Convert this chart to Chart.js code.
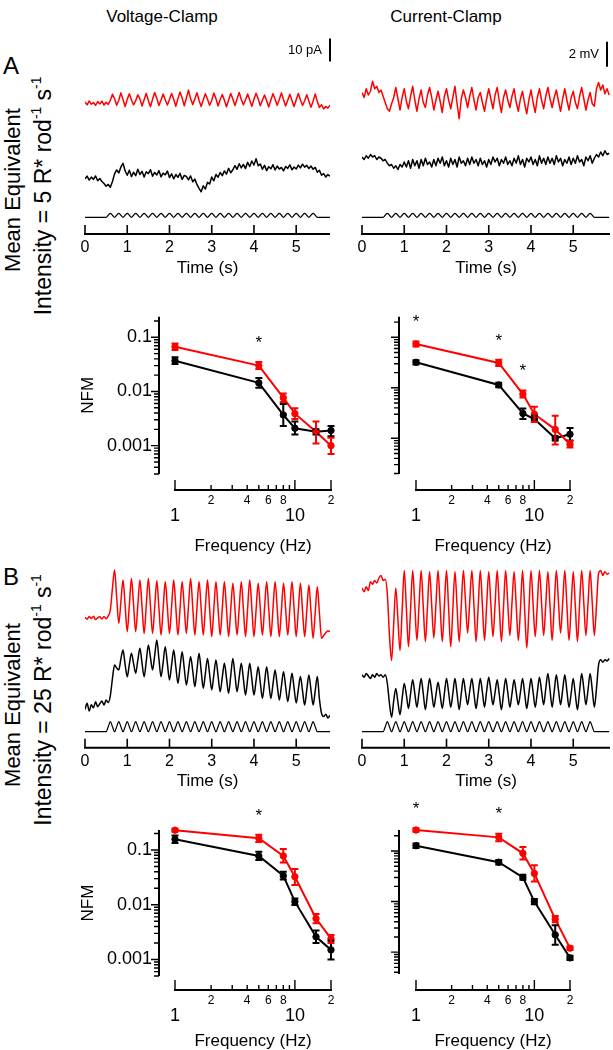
<!DOCTYPE html>
<html>
<head>
<meta charset="utf-8">
<script src="https://cdn.jsdelivr.net/npm/chart.js@4.4.0/dist/chart.umd.min.js"></script>
<style>
  body { margin: 0; background: #fff; width: 613px; height: 1050px; position: relative; overflow: hidden;
         font-family: "Liberation Sans", Arial, sans-serif; color: #000; }
  canvas { position: absolute; }
  .c { position: absolute; white-space: nowrap; transform: translate(-50%, -50%); }
  .r { position: absolute; white-space: nowrap; transform: translate(-50%, -50%) rotate(-90deg); }
  .r sup { font-size: 60%; vertical-align: 0.75em; }
</style>
</head>
<body>
<div class="c" style="left:162px; top:17px; font-size:17px">Voltage-Clamp</div>
<div class="c" style="left:446px; top:17px; font-size:17px">Current-Clamp</div>
<div class="c" style="left:11px; top:66px; font-size:24px">A</div>
<div class="c" style="left:11px; top:577px; font-size:24px">B</div>
<div class="r" style="left:13px; top:190px; font-size:22px">Mean Equivalent</div>
<div class="r" style="left:43px; top:196px; font-size:23px">Intensity = 5 R* rod<sup>-1</sup> s<sup>-1</sup></div>
<div class="r" style="left:13px; top:705px; font-size:22px">Mean Equivalent</div>
<div class="r" style="left:43px; top:700px; font-size:23px">Intensity = 25 R* rod<sup>-1</sup> s<sup>-1</sup></div>

<canvas id="traceAvc" width="272" height="260" style="left:70px; top:30px"></canvas>
<canvas id="traceAcc" width="266" height="260" style="left:347px; top:30px"></canvas>
<canvas id="nfmAvc" width="272" height="270" style="left:70px; top:290px"></canvas>
<canvas id="nfmAcc" width="266" height="270" style="left:347px; top:290px"></canvas>
<canvas id="traceBvc" width="272" height="250" style="left:70px; top:555px"></canvas>
<canvas id="traceBcc" width="266" height="250" style="left:347px; top:555px"></canvas>
<canvas id="nfmBvc" width="272" height="260" style="left:70px; top:790px"></canvas>
<canvas id="nfmBcc" width="266" height="260" style="left:347px; top:790px"></canvas>

<script>
// ---- recordings, one sample every 50 ms starting at t = 0 s ----
const sampleStep = 0.05;

// light stimulus (relative contrast), 5 Hz, 0.5 - 5.5 s
const stimulus = [
	0,0,0,0,0,0,0,0,0,0,0,
	.5,1,.5,0, .5,1,.5,0, .5,1,.5,0, .5,1,.5,0, .5,1,.5,0,
	.5,1,.5,0, .5,1,.5,0, .5,1,.5,0, .5,1,.5,0, .5,1,.5,0,
	.5,1,.5,0, .5,1,.5,0, .5,1,.5,0, .5,1,.5,0, .5,1,.5,0,
	.5,1,.5,0, .5,1,.5,0, .5,1,.5,0, .5,1,.5,0, .5,1,.5,0,
	.5,1,.5,0, .5,1,.5,0, .5,1,.5,0, .5,1,.5,0, .5,1,.5,0,
	0,0,0,0,0,0,0
];

// A, voltage clamp (pA)
const vcLowRed = [
	0.4,-0.8,0.9,-0.5,0.2,-1.0,0.6,-0.4,0.8,-0.9,0.3,-0.6,1.2,
	3.8,1.9,-1.0,1.2, 4.4,1.5,-1.5,1.6, 4.0,1.3,-0.8,1.0, 3.6,1.8,-1.3,1.4,
	4.2,1.1,-1.6,1.7, 4.6,2.0,-1.1,1.3, 3.9,1.4,-0.9,1.5, 4.1,1.6,-1.4,1.9,
	4.8,2.1,-1.2,2.2, 5.6,1.8,-0.7,1.7, 4.5,1.2,-1.5,1.4, 4.0,1.6,-1.0,1.1,
	4.3,1.9,-1.3,1.5, 3.7,1.2,-1.6,1.3, 4.1,1.7,-1.1,1.8, 4.6,1.5,-0.8,1.4,
	3.9,1.3,-1.4,1.6, 4.2,1.8,-1.2,1.2, 3.5,1.0,-1.7,1.3, 4.0,1.6,-1.0,1.5,
	4.4,1.4,-1.3,1.2, 3.8,1.1,-1.5,1.4, 4.1,1.3,-1.1,1.0, 3.6,0.9,-1.8,0.8,
	3.9,0.6,-1.9,-0.8,-2.6,-1.5,-2.2,-0.9
];
const vcLowBlack = [
	-0.3,0.8,-0.9,0.4,-0.6,0.9,-1.2,-0.2,-1.5,-2.4,
	-3.6,-2.8,-4.0,-1.5,1.8,3.5,2.2,4.8,6.4,3.1,
	1.2,3.4,0.6,2.5,1.0,3.8,1.5,2.9,0.4,2.7,
	1.9,3.6,0.8,2.4,1.3,3.2,0.5,2.1,1.4,3.0,
	0.2,1.8,-0.4,1.5,0.3,2.0,-0.6,1.1,0.7,-0.8,
	0.9,-1.6,-0.5,-2.8,-4.5,-6.0,-3.4,-4.8,-1.9,-2.6,
	0.4,-1.2,1.5,0.3,2.4,1.0,3.1,1.7,4.2,2.3,
	3.6,5.4,3.8,6.2,4.4,5.9,4.1,6.8,5.0,7.4,
	5.6,8.4,5.3,6.1,3.8,5.5,3.2,4.9,4.0,5.8,
	3.5,5.2,3.9,4.6,3.1,5.0,4.2,5.7,3.6,4.8,
	3.9,5.6,4.4,6.0,4.7,5.5,4.1,5.2,3.8,4.6,
	2.5,3.4,1.2,1.9,0.4,1.5,0.8
];

// A, current clamp (mV)
const ccLowRed = [
	0.6,0.2,0.9,0.4,0.7,1.5,0.9,1.1,0.6,0.8,
	0.3,-0.2,-0.7,-0.9,-0.3,0.2,
	1.0,0.1,-0.8,0.2, 0.9,-0.1,-0.7,0.3, 1.1,0.0,-0.9,0.1, 0.8,-0.2,-0.6,0.4,
	1.0,0.2,-0.8,0.0, 0.7,-0.1,-1.0,0.3, 0.9,0.0,-0.7,0.2, 1.1,-0.3,-1.5,0.1,
	0.8,0.2,-0.6,0.3, 1.0,0.0,-0.8,0.2, 0.6,-0.2,-0.9,0.1, 0.9,0.1,-0.7,0.4,
	1.0,-0.1,-1.0,0.2, 0.8,0.0,-0.6,0.3, 0.9,-0.2,-0.9,0.1, 0.7,-0.3,-1.1,0.0,
	0.8,-0.2,-1.0,0.2, 0.9,0.0,-0.7,0.3, 1.0,0.1,-0.6,0.2, 0.8,-0.1,-0.9,0.1,
	0.9,0.0,-0.8,0.2, 0.7,-0.2,-0.7,0.3, 1.0,0.1,-0.8,0.0, 0.6,-0.3,-0.5,0.9,
	1.4,0.8,1.2,0.5,0.9,0.4
];
const ccLowBlack = [
	0.4,0.2,0.5,0.3,0.6,0.4,0.5,0.2,0.4,0.3,
	0.1,0.2,-0.1,-0.3,-0.2,-0.5,-0.3,-0.6,-0.2,-0.4,
	0.0,-0.4,0.1,-0.5,0.2,-0.3,0.1,-0.5,0.2,-0.3,
	0.3,-0.2,0.0,-0.4,0.2,-0.3,0.3,-0.1,0.4,-0.3,
	0.1,-0.4,0.3,-0.2,0.2,-0.4,0.4,-0.1,0.1,-0.3,
	0.3,-0.2,0.4,-0.1,0.2,-0.3,0.3,-0.2,0.1,-0.4,
	0.2,-0.2,0.4,0.0,0.3,-0.3,0.2,-0.1,0.4,-0.2,
	0.1,-0.3,0.3,-0.1,0.5,-0.2,0.2,-0.4,0.3,0.0,
	0.4,-0.2,0.2,-0.3,0.5,-0.1,0.3,-0.2,0.4,-0.1,
	0.3,-0.2,0.5,0.0,0.3,-0.3,0.2,-0.1,0.4,-0.2,
	0.3,-0.1,0.5,0.0,0.2,-0.3,0.4,0.1,0.5,-0.1,
	0.3,0.6,0.4,0.8,0.5,0.9,0.6,0.7
];

// B, voltage clamp (pA)
const vcHighRed = [
	0.3,-0.5,0.6,-0.2,0.8,-0.7,0.1,0.5,-0.4,0.7,-0.3,0.9,
	3.5,13.0,20.9,9.0,-2.3,7.1,
	16.5,5.3,-5.9,5.6, 17.2,5.6,-5.9,5.3, 16.5,4.9,-6.7,5.2, 17.2,5.1,-6.7,4.8,
	16.2,4.4,-7.4,4.2, 15.8,4.6,-6.7,4.9, 16.5,4.6,-7.4,4.2, 15.8,4.6,-6.7,5.2,
	17.2,4.9,-7.4,4.2, 15.8,4.2,-7.4,4.6, 16.5,4.2,-8.1,3.9, 15.8,4.2,-7.4,4.2,
	15.8,3.9,-8.1,3.5, 15.1,3.9,-7.4,4.2, 15.8,3.9,-8.1,4.2, 16.5,4.2,-8.1,3.5,
	15.1,3.9,-7.4,4.2, 15.8,3.9,-8.1,3.9, 15.8,4.2,-8.1,3.5, 15.1,3.9,-7.4,4.2,
	15.8,3.9,-8.1,3.5, 15.1,3.1,-8.1,3.1, 14.3,2.8,-8.8,2.4,
	13.6,2.0,-8.8,-7.6,-6.4,-5.5,-6.0
];
const vcHighBlack = [
	-1.5,1.2,-2.2,0.5,-0.8,1.8,-0.3,1.0,2.2,0.4,2.6,1.5,
	4.5,12.0,17.8,16.5,15.7,20.5,
	24.3,18.0,12.7,18.2, 22.9,18.5,14.2,19.9, 25.1,18.6,12.7,19.5, 26.5,21.0,15.7,22.0,
	28.7,20.5,12.7,19.0, 25.8,18.5,11.3,17.8, 24.3,17.0,9.9,16.8, 23.6,16.3,9.1,15.2,
	21.4,15.4,8.4,15.6, 22.9,15.3,7.7,14.2, 20.7,13.8,7.0,13.5, 20.0,13.1,6.2,12.4,
	18.6,12.0,5.5,13.1, 20.7,13.4,6.2,12.4, 18.6,11.7,4.8,11.7, 18.6,11.7,4.8,11.0,
	17.1,10.2,3.3,10.2, 17.1,10.2,3.3,9.5, 15.7,9.1,2.6,8.7, 14.9,8.4,1.9,8.0,
	14.2,7.7,1.3,7.1, 12.8,6.6,0.4,7.0, 13.5,6.9,0.4,6.6,
	12.8,3.0,-3.2,-4.6,-3.6,-5.2,-4.0
];

// B, current clamp (mV)
const ccHighRed = [
	0.0,-0.3,0.1,-0.2,0.5,0.3,0.6,0.4,0.8,1.0,0.6,0.7,-0.5,-3.8,
	-5.8,-2.9,0.0,-2.5, -5.0,-1.8,1.4,-1.6, -4.7,-1.7,1.4,-1.4, -4.2,-1.4,1.4,-1.5,
	-4.3,-1.5,1.3,-1.4, -4.0,-1.3,1.4,-1.5, -4.3,-1.4,1.4,-1.6, -4.7,-1.7,1.3,-1.5,
	-4.3,-1.4,1.4,-1.1, -3.6,-1.1,1.4,-1.4, -4.3,-1.5,1.4,-1.4, -4.2,-1.4,1.3,-1.3,
	-3.9,-1.3,1.4,-1.5, -4.3,-1.5,1.4,-1.2, -3.8,-1.2,1.3,-1.4, -4.2,-1.7,1.4,-1.7,
	-4.8,-1.8,1.4,-1.3, -3.9,-1.3,1.4,-1.2, -3.8,-1.3,1.3,-1.4, -4.2,-1.4,1.4,-1.1,
	-3.6,-1.2,1.4,-1.4, -4.2,-1.5,1.3,-1.5, -4.3,-1.3,1.4,-1.2, -3.8,-1.2,1.4,-1.2,
	-3.8,-1.4,1.2,1.4,1.0,1.3,1.1,1.2
];
const ccHighBlack = [
	0.1,-0.1,0.2,0.0,-0.2,0.1,-0.1,0.2,0.0,0.1,-0.1,0.1,-0.6,-2.2,
	-3.3,-2.0,-1.0,-2.1, -3.1,-1.8,-0.6,-1.5, -2.6,-1.4,-0.3,-1.4, -2.5,-1.3,-0.2,-1.4,
	-2.7,-1.4,-0.2,-1.3, -2.5,-1.5,-0.5,-1.5, -2.6,-1.4,-0.2,-1.3, -2.5,-1.4,-0.2,-1.4,
	-2.7,-1.4,-0.2,-1.3, -2.3,-1.2,-0.2,-1.4, -2.6,-1.4,-0.2,-1.3, -2.5,-1.2,-0.1,-1.2,
	-2.3,-1.3,-0.3,-1.5, -2.7,-1.4,-0.2,-1.3, -2.5,-1.4,-0.3,-1.3, -2.3,-1.3,-0.2,-1.4,
	-2.6,-1.4,-0.2,-1.3, -2.5,-1.3,-0.1,-1.2, -2.3,-1.0,0.2,-1.1, -2.5,-1.2,0.1,-1.1,
	-2.3,-1.1,0.1,-1.2, -2.5,-1.4,-0.2,-1.5, -2.7,-1.2,0.2,-1.0, -2.3,-1.1,0.2,-1.1,
	-2.5,-1.0,0.9,1.3,1.1,1.3,1.2,1.4
];

const timeTicks = [0, 1, 2, 3, 4, 5];
const timeTickLabels = ['0', '1', '2', '3', '4', '5'];

// ---- NFM vs frequency ----
const freqs = [1, 5, 8, 10, 15, 20];

const nfmAvcRed = [0.067, 0.030, 0.0077, 0.0039, 0.0018, 0.0010];
const nfmAvcRedLo = [0.058, 0.026, 0.0064, 0.0031, 0.0011, 0.0007];
const nfmAvcRedHi = [0.077, 0.035, 0.0092, 0.0049, 0.0028, 0.0014];
const nfmAvcBlack = [0.037, 0.0144, 0.0037, 0.0021, 0.0018, 0.0019];
const nfmAvcBlackLo = [0.032, 0.0117, 0.0023, 0.0016, 0.0016, 0.0015];
const nfmAvcBlackHi = [0.043, 0.0177, 0.0059, 0.0028, 0.0020, 0.0023];

const nfmAccRed = [0.074, 0.031, 0.0075, 0.0030, 0.0015, 0.00076];
const nfmAccRedLo = [0.066, 0.027, 0.0064, 0.0021, 0.00075, 0.00066];
const nfmAccRedHi = [0.083, 0.036, 0.0088, 0.0042, 0.0028, 0.00088];
const nfmAccBlack = [0.032, 0.0114, 0.0031, 0.0024, 0.0010, 0.0012];
const nfmAccBlackLo = [0.029, 0.0103, 0.0024, 0.0021, 0.0009, 0.0009];
const nfmAccBlackHi = [0.035, 0.0126, 0.0039, 0.0028, 0.0011, 0.0016];

const nfmBvcRed = [0.23, 0.164, 0.078, 0.0325, 0.0056, 0.0024];
const nfmBvcRedLo = [0.215, 0.14, 0.059, 0.023, 0.0046, 0.0020];
const nfmBvcRedHi = [0.245, 0.19, 0.104, 0.045, 0.0068, 0.0028];
const nfmBvcBlack = [0.157, 0.078, 0.034, 0.0114, 0.0026, 0.0015];
const nfmBvcBlackLo = [0.134, 0.066, 0.029, 0.0099, 0.0020, 0.0010];
const nfmBvcBlackHi = [0.184, 0.093, 0.040, 0.013, 0.0034, 0.0022];

const nfmBccRed = [0.26, 0.186, 0.090, 0.036, 0.0045, 0.0012];
const nfmBccRedLo = [0.24, 0.155, 0.068, 0.025, 0.0039, 0.0011];
const nfmBccRedHi = [0.28, 0.22, 0.12, 0.052, 0.0052, 0.0013];
const nfmBccBlack = [0.127, 0.060, 0.030, 0.010, 0.0022, 0.00077];
const nfmBccBlackLo = [0.115, 0.054, 0.027, 0.0089, 0.0014, 0.0007];
const nfmBccBlackHi = [0.14, 0.066, 0.034, 0.0113, 0.0034, 0.00085];

// significance marks (frequency, NFM height of the asterisk)
const starsAvc = [{ x: 5, y: 0.087 }];
const starsAcc = [{ x: 1, y: 0.23 }, { x: 5, y: 0.095 }, { x: 8, y: 0.024 }];
const starsBvc = [{ x: 5, y: 0.47 }];
const starsBcc = [{ x: 1, y: 0.78 }, { x: 5, y: 0.6 }];

const nfmYTicks = [0.001, 0.01, 0.1];
const nfmYTickLabels = ['0.001', '0.01', '0.1'];
const nfmXTicks = [1, 2, 3, 4, 5, 6, 7, 8, 9, 10, 20];
const nfmXLongTicks = [1, 10, 20];
const nfmXSmallTicks = [2, 4, 6, 8, 20];
const nfmXSmallLabels = ['2', '4', '6', '8', '2'];
const nfmXBigTicks = [1, 10];
const nfmXBigLabels = ['1', '10'];

// ---- drawing ----
const RED = '#ff0000';
const FONT = '"Liberation Sans", Arial, sans-serif';

const timeAxisPlugin = {
	id: 'timeAxis',
	afterDraw(chart, args, o) {
		const ctx = chart.ctx, xs = chart.scales.x, y = o.axisY;
		ctx.save();
		ctx.strokeStyle = '#000';
		ctx.lineWidth = 2;
		ctx.beginPath();
		ctx.moveTo(xs.getPixelForValue(0) - 1, y);
		ctx.lineTo(xs.getPixelForValue(xs.max), y);
		ctx.stroke();
		ctx.lineWidth = 1.6;
		ctx.beginPath();
		timeTicks.forEach(t => {
			const px = xs.getPixelForValue(t);
			ctx.moveTo(px, y);
			ctx.lineTo(px, y - 9);
		});
		ctx.stroke();
		ctx.fillStyle = '#000';
		ctx.textAlign = 'center';
		ctx.textBaseline = 'middle';
		ctx.font = '16px ' + FONT;
		timeTicks.forEach((t, i) => ctx.fillText(timeTickLabels[i], xs.getPixelForValue(t), y + 14));
		ctx.font = '17px ' + FONT;
		ctx.fillText('Time (s)', (xs.getPixelForValue(0) + xs.getPixelForValue(xs.max)) / 2, y + 34);
		ctx.restore();
	}
};

const scaleBarPlugin = {
	id: 'scaleBar',
	afterDraw(chart, args, o) {
		if (!o.label) return;
		const ctx = chart.ctx, ys = chart.scales[o.axis];
		const y1 = ys.getPixelForValue(o.base), y2 = ys.getPixelForValue(o.base + o.len);
		ctx.save();
		ctx.strokeStyle = '#000';
		ctx.lineWidth = 2;
		ctx.beginPath();
		ctx.moveTo(o.x, y1);
		ctx.lineTo(o.x, y2);
		ctx.stroke();
		ctx.fillStyle = '#000';
		ctx.font = '13px ' + FONT;
		ctx.textAlign = 'right';
		ctx.textBaseline = 'middle';
		ctx.fillText(o.label, o.x - 8, (y1 + y2) / 2);
		ctx.restore();
	}
};

function traceChart(id, box, series, bar) {
	const H = box.height;
	const scales = { x: { type: 'linear', min: 0, max: box.tMax, display: false } };
	const datasets = series.map((s, n) => {
		const zero = s.zero - box.top;
		scales['y' + n] = { type: 'linear', display: false, min: -(H - zero) / s.k, max: zero / s.k };
		return {
			data: s.values.map((v, i) => ({ x: i * sampleStep, y: v })),
			yAxisID: 'y' + n,
			borderColor: s.color,
			borderWidth: s.width,
			pointRadius: 0,
			cubicInterpolationMode: s.smooth ? 'monotone' : 'default',
			tension: 0,
			borderJoinStyle: 'round',
			fill: false
		};
	});
	return new Chart(document.getElementById(id), {
		type: 'line',
		data: { datasets },
		options: {
			responsive: false,
			animation: false,
			events: [],
			layout: { padding: { left: box.plotLeft - box.left, right: box.left + box.width - box.plotRight, top: 0, bottom: 0 } },
			plugins: {
				legend: { display: false },
				tooltip: { enabled: false },
				timeAxis: { axisY: box.axisY - box.top },
				scaleBar: bar ? { axis: 'y0', base: bar.base, len: bar.len, label: bar.label, x: bar.x - box.left } : {}
			},
			scales
		},
		plugins: [timeAxisPlugin, scaleBarPlugin]
	});
}

const errorBarPlugin = {
	id: 'errorBars',
	afterDatasetsDraw(chart) {
		const ctx = chart.ctx, xs = chart.scales.x, ys = chart.scales.y;
		ctx.save();
		ctx.lineWidth = 2;
		for (let d = chart.data.datasets.length - 1; d >= 0; d--) {
			const ds = chart.data.datasets[d];
			ctx.strokeStyle = ds.borderColor;
			ctx.beginPath();
			ds.data.forEach((p, i) => {
				const px = xs.getPixelForValue(p.x);
				const y1 = ys.getPixelForValue(ds.lo[i]), y2 = ys.getPixelForValue(ds.hi[i]);
				ctx.moveTo(px, y1); ctx.lineTo(px, y2);
				ctx.moveTo(px - 3.5, y1); ctx.lineTo(px + 3.5, y1);
				ctx.moveTo(px - 3.5, y2); ctx.lineTo(px + 3.5, y2);
			});
			ctx.stroke();
		}
		ctx.restore();
	}
};

const logAxesPlugin = {
	id: 'logAxes',
	afterDraw(chart, args, o) {
		const ctx = chart.ctx, xs = chart.scales.x, ys = chart.scales.y, area = chart.chartArea;
		const ax = area.left - o.gapX, ay = area.bottom + o.gapY;
		ctx.save();
		ctx.strokeStyle = '#000';
		ctx.fillStyle = '#000';
		// y axis
		ctx.lineWidth = 2;
		ctx.beginPath();
		ctx.moveTo(ax, area.top);
		ctx.lineTo(ax, area.bottom);
		ctx.stroke();
		ctx.lineWidth = 1.4;
		ctx.beginPath();
		for (let e = Math.floor(Math.log10(ys.min)); e <= Math.ceil(Math.log10(ys.max)); e++) {
			for (let m = 1; m < 10; m++) {
				const v = m * Math.pow(10, e);
				if (v < ys.min * 0.999 || v > ys.max * 1.001) continue;
				const py = ys.getPixelForValue(v);
				ctx.moveTo(ax, py);
				ctx.lineTo(ax - (m === 1 ? 8 : 5), py);
			}
		}
		ctx.stroke();
		if (o.yLabels) {
			ctx.font = '18px ' + FONT;
			ctx.textAlign = 'right';
			ctx.textBaseline = 'middle';
			nfmYTicks.forEach((v, i) => ctx.fillText(nfmYTickLabels[i], ax - 7, ys.getPixelForValue(v)));
			ctx.font = '17px ' + FONT;
			ctx.save();
			ctx.translate(area.left - 87, (area.top + area.bottom) / 2);
			ctx.rotate(-Math.PI / 2);
			ctx.textAlign = 'center';
			ctx.fillText('NFM', 0, 0);
			ctx.restore();
		}
		// x axis
		ctx.lineWidth = 2;
		ctx.beginPath();
		ctx.moveTo(xs.getPixelForValue(xs.min) - 1, ay);
		ctx.lineTo(xs.getPixelForValue(xs.max) + 1, ay);
		ctx.stroke();
		ctx.lineWidth = 1.4;
		ctx.beginPath();
		nfmXTicks.forEach(v => {
			const px = xs.getPixelForValue(v);
			ctx.moveTo(px, ay);
			ctx.lineTo(px, ay - (nfmXLongTicks.includes(v) ? 10 : 5));
		});
		ctx.stroke();
		ctx.textAlign = 'center';
		ctx.textBaseline = 'middle';
		ctx.font = '12px ' + FONT;
		nfmXSmallTicks.forEach((v, i) => ctx.fillText(nfmXSmallLabels[i], xs.getPixelForValue(v), ay + 11));
		ctx.font = '18px ' + FONT;
		nfmXBigTicks.forEach((v, i) => ctx.fillText(nfmXBigLabels[i], xs.getPixelForValue(v), ay + 26));
		ctx.font = '17px ' + FONT;
		ctx.fillText('Frequency (Hz)', (area.left + area.right) / 2, ay + o.titleGap);
		// asterisks
		o.stars.forEach(s => ctx.fillText('*', xs.getPixelForValue(s.x), ys.getPixelForValue(s.y) + 3));
		ctx.restore();
	}
};

function nfmChart(id, box, red, black, stars) {
	const mk = (vals, lo, hi, color) => ({
		data: freqs.map((f, i) => ({ x: f, y: vals[i] })),
		lo, hi,
		borderColor: color,
		backgroundColor: color,
		borderWidth: 2,
		pointRadius: 3.2,
		pointBorderWidth: 1,
		clip: false,
		tension: 0
	});
	return new Chart(document.getElementById(id), {
		type: 'line',
		data: { datasets: [mk(red[0], red[1], red[2], RED), mk(black[0], black[1], black[2], '#000')] },
		options: {
			responsive: false,
			animation: false,
			events: [],
			layout: { padding: {
				left: box.x0 - box.left, right: box.left + box.width - box.x1,
				top: box.yTop - box.top, bottom: box.top + box.height - box.yBot } },
			plugins: {
				legend: { display: false },
				tooltip: { enabled: false },
				logAxes: { gapX: box.gapX, gapY: box.gapY, titleGap: box.titleGap, yLabels: box.yLabels, stars }
			},
			scales: {
				x: { type: 'logarithmic', min: 1, max: 20, display: false },
				y: { type: 'logarithmic', min: box.yMin, max: box.yMax, display: false }
			}
		},
		plugins: [errorBarPlugin, logAxesPlugin]
	});
}

// ---- layout (page pixels) ----
const tr = (values, zero, k, color, width, smooth) => ({ values, zero, k, color, width, smooth });

traceChart('traceAvc', { left: 70, top: 30, width: 272, height: 260, plotLeft: 85, plotRight: 330, tMax: 5.8, axisY: 234 },
	[tr(vcLowRed, 103, 2.3, RED, 1.5), tr(vcLowBlack, 178, 2.3, '#000', 1.5), tr(stimulus, 217.3, 4, '#000', 1.2, true)],
	{ base: 18, len: 10, label: '10 pA', x: 330 });
traceChart('traceAcc', { left: 347, top: 30, width: 266, height: 260, plotLeft: 362, plotRight: 610, tMax: 5.87, axisY: 234 },
	[tr(ccLowRed, 100, 12.5, RED, 1.5), tr(ccLowBlack, 162, 12.5, '#000', 1.5), tr(stimulus, 217.3, 4, '#000', 1.2, true)],
	{ base: 2.66, len: 2, label: '2 mV', x: 607 });
traceChart('traceBvc', { left: 70, top: 555, width: 272, height: 250, plotLeft: 85, plotRight: 330, tMax: 5.8, axisY: 747.7 },
	[tr(vcHighRed, 618, 2.3, RED, 1.5, true), tr(vcHighBlack, 706, 2.3, '#000', 1.5, true), tr(stimulus, 731.7, 10, '#000', 1.2, true)]);
traceChart('traceBcc', { left: 347, top: 555, width: 266, height: 250, plotLeft: 362, plotRight: 610, tMax: 5.87, axisY: 747.7 },
	[tr(ccHighRed, 588, 12.5, RED, 1.5, true), tr(ccHighBlack, 676, 12.5, '#000', 1.5, true), tr(stimulus, 731.7, 10, '#000', 1.2, true)]);

nfmChart('nfmAvc', { left: 70, top: 290, width: 272, height: 270, x0: 175, x1: 331, yTop: 316.7, yBot: 474,
		yMin: 0.00032, yMax: 0.24, gapX: 16, gapY: 16, titleGap: 56, yLabels: true },
	[nfmAvcRed, nfmAvcRedLo, nfmAvcRedHi], [nfmAvcBlack, nfmAvcBlackLo, nfmAvcBlackHi], starsAvc);
nfmChart('nfmAcc', { left: 347, top: 290, width: 266, height: 270, x0: 416, x1: 570, yTop: 316.7, yBot: 474,
		yMin: 0.000196, yMax: 0.256, gapX: 17, gapY: 16, titleGap: 56, yLabels: false },
	[nfmAccRed, nfmAccRedLo, nfmAccRedHi], [nfmAccBlack, nfmAccBlackLo, nfmAccBlackHi], starsAcc);
nfmChart('nfmBvc', { left: 70, top: 790, width: 272, height: 260, x0: 175, x1: 331, yTop: 830, yBot: 976,
		yMin: 0.0005, yMax: 0.232, gapX: 16, gapY: 14, titleGap: 51, yLabels: true },
	[nfmBvcRed, nfmBvcRedLo, nfmBvcRedHi], [nfmBvcBlack, nfmBvcBlackLo, nfmBvcBlackHi], starsBvc);
nfmChart('nfmBcc', { left: 347, top: 790, width: 266, height: 260, x0: 416, x1: 570, yTop: 830, yBot: 974,
		yMin: 0.00037, yMax: 0.26, gapX: 17, gapY: 16, titleGap: 51, yLabels: false },
	[nfmBccRed, nfmBccRedLo, nfmBccRedHi], [nfmBccBlack, nfmBccBlackLo, nfmBccBlackHi], starsBcc);
</script>
</body>
</html>
